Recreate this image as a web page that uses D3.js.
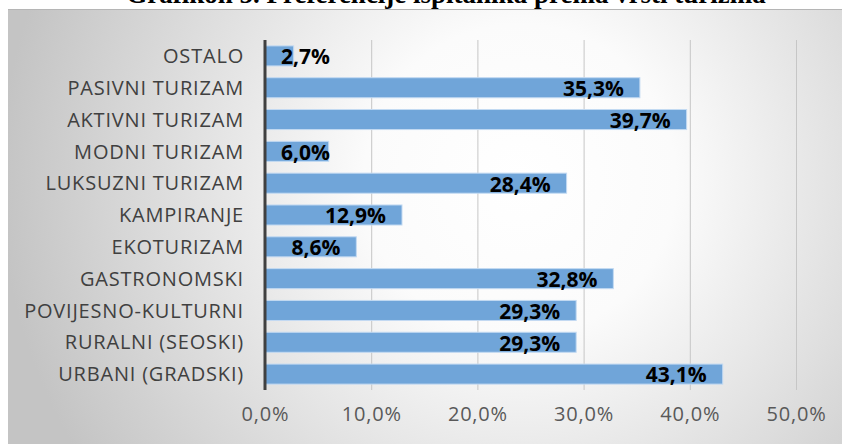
<!DOCTYPE html>
<html lang="hr">
<head>
    <meta charset="UTF-8">
    <title>Preferencije ispitanika prema vrsti turizma</title>
    <script src="https://d3js.org/d3.v7.min.js"></script>
    <style>
        body { margin: 0; background: #fff; overflow: hidden; }
        svg { display: block; }
        .cat { font-family: "Open Sans", sans-serif; font-size: 20px; letter-spacing: 0.8px; fill: #404040; }
        .tick-lbl { font-family: "Open Sans", sans-serif; font-size: 20px; letter-spacing: 0.8px; fill: #595959; }
        .val { font-family: "Open Sans", sans-serif; font-size: 21px; font-weight: bold; fill: #000; }
    </style>
</head>
<body>
    <div id="chart"></div>
    <script type="text/javascript">
        // categories, top to bottom as in the picture
        const categories = ["OSTALO", "PASIVNI TURIZAM", "AKTIVNI TURIZAM", "MODNI TURIZAM",
            "LUKSUZNI TURIZAM", "KAMPIRANJE", "EKOTURIZAM", "GASTRONOMSKI",
            "POVIJESNO-KULTURNI", "RURALNI (SEOSKI)", "URBANI (GRADSKI)"];
        const shares = [2.7, 35.3, 39.7, 6.0, 28.4, 12.9, 8.6, 32.8, 29.3, 29.3, 43.1];
        const xTicks = [0, 10, 20, 30, 40, 50];
        const title = "Grafikon 5. Preferencije ispitanika prema vrsti turizma";

        const W = 842, H = 444;
        const margin = {top: 40, right: 46, bottom: 54, left: 265};
        const fmt = v => v.toFixed(1).replace(".", ",") + "%";

        const svg = d3.select("#chart").append("svg")
            .attr("width", W)
            .attr("height", H);

        // radial grey background like the office chart area
        const grad = svg.append("defs").append("radialGradient")
            .attr("id", "bg")
            .attr("gradientUnits", "userSpaceOnUse")
            .attr("cx", 520).attr("cy", 180).attr("r", 520);
        grad.append("stop").attr("offset", "0%").attr("stop-color", "#ffffff");
        grad.append("stop").attr("offset", "30%").attr("stop-color", "#fbfbfb");
        grad.append("stop").attr("offset", "100%").attr("stop-color", "#c4c4c4");

        svg.append("rect")
            .attr("x", 8).attr("y", 10)
            .attr("width", W).attr("height", H)
            .attr("fill", "url(#bg)");
        svg.append("line")
            .attr("x1", 8).attr("x2", W).attr("y1", 9.5).attr("y2", 9.5)
            .attr("stroke", "#b5b5b5").attr("stroke-width", 1);

        // title of the page above, cut off by the crop as in the picture
        svg.append("text")
            .attr("x", 446).attr("y", 3)
            .attr("text-anchor", "middle")
            .attr("font-family", "'Liberation Serif', serif")
            .attr("font-weight", "bold")
            .attr("font-size", 27)
            .text(title);

        const x = d3.scaleLinear().domain([0, 50]).range([margin.left, W - margin.right]);
        const y = d3.scaleBand().domain(categories)
            .range([margin.top, H - margin.bottom])
            .paddingInner(0.37).paddingOuter(0.185);

        // vertical gridlines
        svg.append("g").selectAll("line")
            .data(xTicks.filter(d => d > 0))
            .join("line")
            .attr("x1", d => x(d) + 0.5).attr("x2", d => x(d) + 0.5)
            .attr("y1", margin.top).attr("y2", H - margin.bottom)
            .attr("stroke", "#c6c6c6").attr("stroke-width", 1);

        // bars
        svg.append("g").selectAll("rect")
            .data(shares)
            .join("rect")
            .attr("x", x(0))
            .attr("y", (d, i) => y(categories[i]))
            .attr("width", d => x(d) - x(0))
            .attr("height", y.bandwidth())
            .attr("fill", "#70a5d9")
            .attr("stroke", "#c3daf2")
            .attr("stroke-width", 1);

        // category axis
        const yAxis = svg.append("g")
            .attr("transform", `translate(${x(0)},0)`)
            .call(d3.axisLeft(y).tickSize(0).tickPadding(21));
        yAxis.select(".domain")
            .attr("stroke", "#404040").attr("stroke-width", 3)
            .attr("d", `M0,${margin.top}V${H - margin.bottom}`);
        yAxis.selectAll("text")
            .attr("class", "cat")
            .attr("font-family", null).attr("font-size", null)
            .attr("dy", "0.36em");

        // value axis
        const xAxis = svg.append("g")
            .attr("transform", `translate(0,${H - margin.bottom})`)
            .call(d3.axisBottom(x).tickValues(xTicks).tickFormat(fmt).tickSize(0).tickPadding(17));
        xAxis.select(".domain").remove();
        xAxis.selectAll("text")
            .attr("class", "tick-lbl")
            .attr("font-family", null).attr("font-size", null);

        // data labels, inside end, pushed right when the bar is too short
        const labels = svg.append("g").selectAll("text")
            .data(shares)
            .join("text")
            .attr("class", "val")
            .attr("y", (d, i) => y(categories[i]) + y.bandwidth() / 2)
            .attr("dy", "0.4em")
            .text(fmt);
        labels.each(function(d) {
            const w = this.getComputedTextLength();
            const left = Math.max(x(d) - 16 - w, x(0) + 16);
            d3.select(this).attr("x", left);
        });
    </script>
</body>
</html>
